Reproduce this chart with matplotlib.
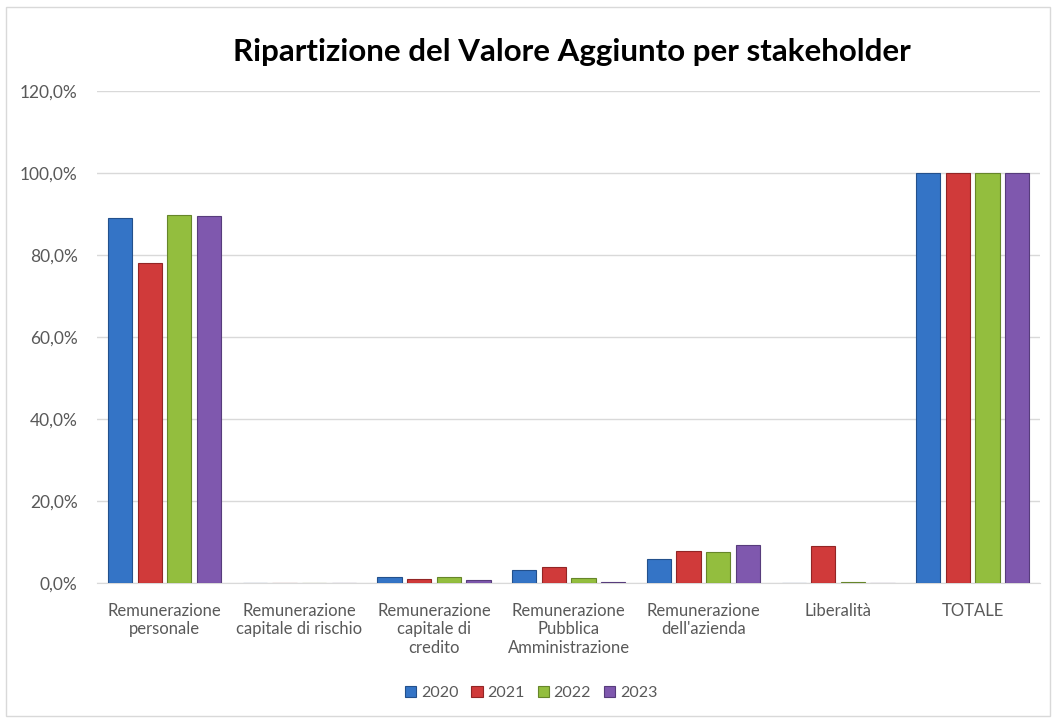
import matplotlib.pyplot as plt
import matplotlib.patches as mpatches
import numpy as np

# data (percent)
categories = ["Remunerazione\npersonale", "Remunerazione\ncapitale di rischio",
              "Remunerazione\ncapitale di\ncredito", "Remunerazione\nPubblica\nAmministrazione",
              "Remunerazione\ndell'azienda", "Liberalità", "TOTALE"]
years = ["2020", "2021", "2022", "2023"]
v2020 = [89.1, 0.0, 1.6, 3.2, 5.9, 0.0, 100.0]
v2021 = [78.0, 0.0, 1.1, 4.0, 7.9, 9.0, 100.0]
v2022 = [89.6, 0.0, 1.6, 1.2, 7.6, 0.3, 100.0]
v2023 = [89.4, 0.0, 0.9, 0.3, 9.2, 0.0, 100.0]
series = [v2020, v2021, v2022, v2023]
colors = ["#3474C6", "#D03A3A", "#93BE3E", "#7F58AE"]
edges = ["#23508C", "#922525", "#66862A", "#573C7C"]

plt.rcParams['font.family'] = ['Lato', 'DejaVu Sans']

fig = plt.figure(figsize=(10.56, 7.2), dpi=100)
fig.patches.append(mpatches.Rectangle((0.006, 0.006), 0.988, 0.984, transform=fig.transFigure,
                                      fill=False, edgecolor="#D9D9D9", linewidth=1))
ax = fig.add_axes([0.092, 0.190, 0.893, 0.684])

x = np.arange(len(categories))
width = 0.18
offsets = [-0.33, -0.11, 0.11, 0.33]
for vals, col, ec, off, yr in zip(series, colors, edges, offsets, years):
    ax.bar(x + off, vals, width, color=col, edgecolor=ec, linewidth=0.8, label=yr, zorder=3)

ax.set_xlim(-0.5, len(categories) - 0.5)
ax.set_ylim(0, 120)
ax.set_yticks(np.arange(0, 121, 20))
ax.set_yticklabels([f"{v:.1f}%".replace(".", ",") for v in np.arange(0, 121, 20)])
ax.set_xticks(x)
ax.set_xticklabels(categories, fontsize=12, color="#595959", linespacing=1.2)
ax.tick_params(axis='y', labelsize=12.5, labelcolor="#595959", length=0, pad=14)
ax.tick_params(axis='x', length=0, pad=14)
ax.grid(axis='y', color="#D9D9D9", linewidth=1, zorder=0)
for s in ['top', 'right', 'left']:
    ax.spines[s].set_visible(False)
ax.spines['bottom'].set_color("#D9D9D9")

fig.text(0.542, 0.928, "Ripartizione del Valore Aggiunto per stakeholder",
         ha='center', va='center', fontsize=22.5, fontweight='bold', color="#000000")

fig.legend(loc='center', bbox_to_anchor=(0.503, 0.038), ncol=4, frameon=False,
           fontsize=11.5, handlelength=0.7, handleheight=0.7, handletextpad=0.3,
           columnspacing=0.8, labelcolor="#595959")

fig.savefig("out.png", dpi=100)
